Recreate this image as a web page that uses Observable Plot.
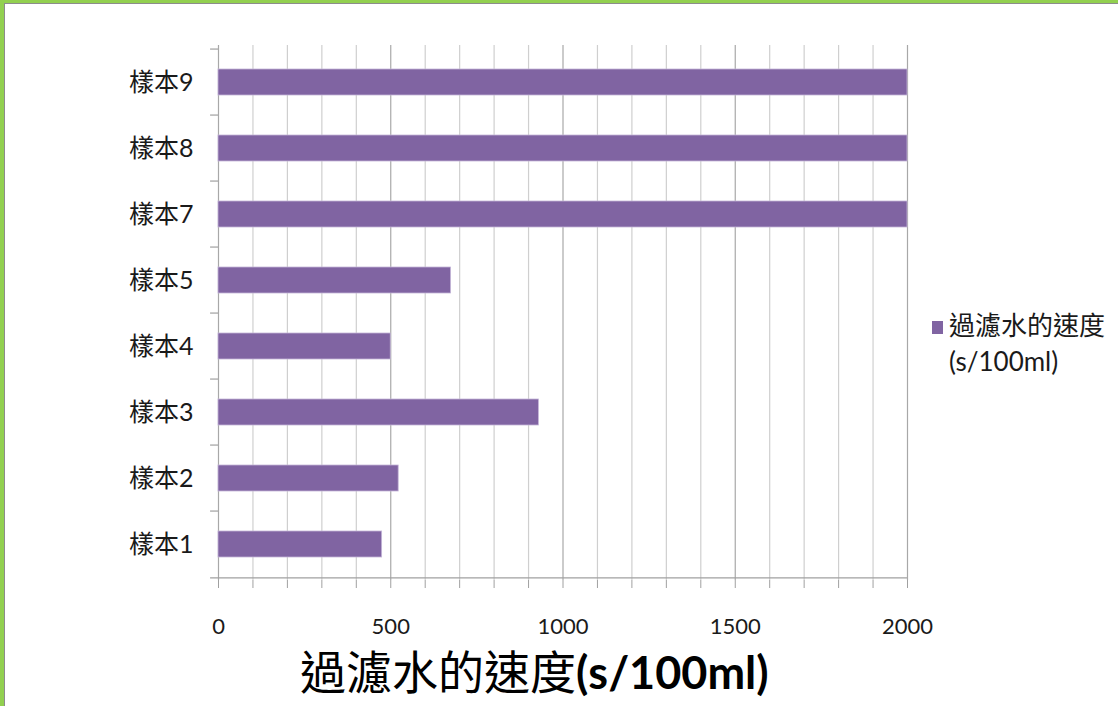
<!DOCTYPE html>
<html><head><meta charset="utf-8">
<script src="https://cdn.jsdelivr.net/npm/d3@7"></script>
<script src="https://cdn.jsdelivr.net/npm/@observablehq/plot@0.6"></script>
<style>
body{margin:0;background:#fff;}
#wrap{position:relative;width:1118px;height:706px;overflow:hidden;background:#fff;font-family:Lato,"Noto Sans CJK TC",sans-serif;}
#frameG{position:absolute;left:0;top:0;width:1118px;height:706px;border-top:3px solid #92d050;border-left:4px solid #92d050;box-sizing:border-box;pointer-events:none;}
#frameI{position:absolute;left:4px;top:3px;right:0;bottom:0;border-top:1px solid #8c8c8c;border-left:1px solid #8c8c8c;pointer-events:none;}
#chart{position:absolute;left:0;top:0;}
#title{position:absolute;top:644px;left:300px;white-space:nowrap;font-size:46px;line-height:56px;color:#000;}
#title .lat{font-family:Lato,sans-serif;font-weight:bold;font-size:45px;}
#legend{position:absolute;left:932px;top:307px;font-size:26px;line-height:36px;color:#1a1a1a;}
#legend .sw{display:inline-block;width:11px;height:13px;background:#8064a2;margin-right:6px;vertical-align:1px;}
</style></head>
<body>
<div id="wrap">
  <div id="chart"></div>
  <div id="legend"></div>
  <div id="title"></div>
  <div id="frameG"></div>
  <div id="frameI"></div>
</div>
<script>
const categories = ["樣本1","樣本2","樣本3","樣本4","樣本5","樣本7","樣本8","樣本9"];
const values = [475, 523, 930, 500, 675, 2000, 2000, 2000];
const majorTicks = [0, 500, 1000, 1500, 2000];
const minorTicks = [100,200,300,400,600,700,800,900,1100,1200,1300,1400,1600,1700,1800,1900];
const seriesLabelCJK = "過濾水的速度";
const seriesLabelUnit = "(s/100ml)";

const data = categories.map((c, i) => ({cat: c, value: values[i]}));
const allTicks = majorTicks.concat(minorTicks).sort((a, b) => a - b);

const H = 640, mT = 45, mB = 60;
const half = (H - mT - mB) / categories.length / 2;

const chart = Plot.plot({
  width: 1118,
  height: H,
  marginLeft: 218,
  marginRight: 211,
  marginTop: mT,
  marginBottom: mB,
  style: {fontFamily: 'Lato, "Noto Sans CJK TC", sans-serif', background: "transparent", color: "#1a1a1a"},
  x: {domain: [0, 2000]},
  y: {domain: categories.slice().reverse(), padding: 0},
  marks: [
    Plot.ruleX(minorTicks, {stroke: "#cfcfcf", strokeWidth: 1.2}),
    Plot.ruleX(majorTicks, {stroke: "#a8a8a8", strokeWidth: 1.2}),
    Plot.barX(data, {x: "value", y: "cat", fill: "#8064a2", stroke: "#c3b5d8", strokeWidth: 0.8, insetTop: 20, insetBottom: 20}),
    Plot.ruleY(categories, {y: d => d, x1: -23, x2: 0, dy: -half, stroke: "#a0a0a0", strokeWidth: 1.2}),
    Plot.ruleY(categories.slice(0, 1), {y: d => d, x1: -23, x2: 2000, dy: half, stroke: "#a0a0a0", strokeWidth: 1.2}),
    Plot.axisX(allTicks, {tickSize: 8, tickPadding: 30, fontSize: 22, stroke: "#a0a0a0", fill: "#1a1a1a",
      tickFormat: d => (majorTicks.includes(d) ? String(d) : ""), label: null}),
    Plot.axisY({tickSize: 0, tickPadding: 25, fontSize: 25, fill: "#1a1a1a", label: null})
  ]
});
document.getElementById("chart").appendChild(chart);

document.getElementById("legend").innerHTML =
  '<div><span class="sw"></span>' + seriesLabelCJK + '</div><div style="padding-left:17px">' + seriesLabelUnit + '</div>';
document.getElementById("title").innerHTML = seriesLabelCJK + '<span class="lat">' + seriesLabelUnit + '</span>';
</script>
</body></html>
